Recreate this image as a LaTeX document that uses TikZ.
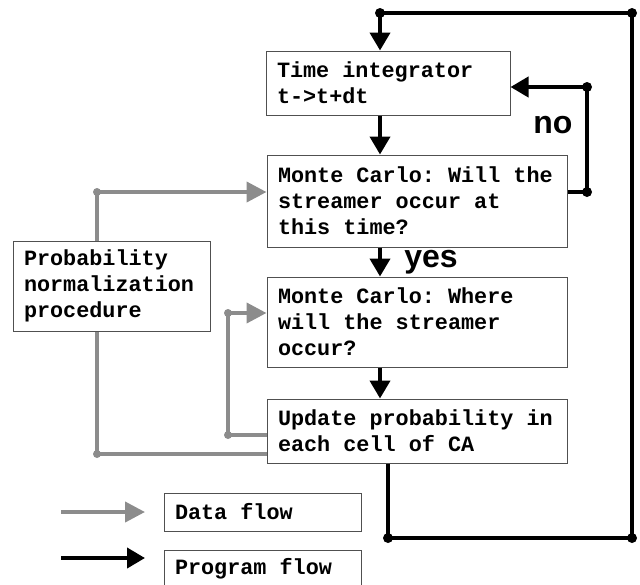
\documentclass[tikz,border=0pt]{standalone}
\usepackage{fontspec}
\setsansfont{Liberation Sans}
\setmonofont{Liberation Mono}
\usepackage{tikz}
\usetikzlibrary{arrows.meta,positioning}
\usepackage{xcolor}
\definecolor{datagray}{HTML}{8C8C8C}
\definecolor{frame}{HTML}{505050}
\tikzset{
  box/.style={draw=frame,line width=0.5pt,fill=white,align=flush left,inner xsep=5.5pt,
    inner ysep=2pt,font=\ttfamily\bfseries\fontsize{10.9}{13}\selectfont},
  prog/.style={-{Triangle[length=9pt,width=10pt]},draw=black,line width=2pt},
  data/.style={-{Triangle[length=10pt,width=10pt]},draw=datagray,line width=2pt},
  answer/.style={font=\sffamily\bfseries\fontsize{16}{16}\selectfont,inner sep=0pt}
}

\begin{document}
\begin{tikzpicture}[x=0.5pt,y=-0.5pt]
  \useasboundingbox (0,0) rectangle (640,584);
  % boxes
  \node[box,minimum width=122pt,minimum height=32pt,text width=111pt] (ti) at (388,83)
    {Time integrator\\t->t+dt};
  \node[box,minimum width=150pt,minimum height=46pt,text width=139pt] (mc1) at (417,201)
    {Monte Carlo: Will the\\streamer occur at\\this time?};
  \node[box,minimum width=150pt,minimum height=45pt,text width=139pt] (mc2) at (417,322)
    {Monte Carlo: Where\\will the streamer\\occur?};
  \node[box,minimum width=150pt,minimum height=32pt,text width=139pt] (up) at (417,431)
    {Update probability in\\each cell of CA};
  \node[box,minimum width=98.5pt,minimum height=45pt,text width=87.5pt] (pn) at (111.5,286)
    {Probability\\normalization\\procedure};
  \node[box,minimum width=98.5pt,minimum height=19pt,text width=87.5pt] (df) at (262.5,512)
    {Data flow};
  \node[box,minimum width=98.5pt,minimum height=19pt,text width=87.5pt,below=9pt of df] (pf)
    {Program flow};
  % program flow
  \coordinate (tl) at (380,13);
  \coordinate (tr) at (632,13);
  \coordinate (br) at (632,538);
  \coordinate (bl) at (388,538);
  \draw[prog] (up.south -| bl) -- (bl) -- (br) -- (tr) -- (tl) -- (ti.north -| tl);
  \draw[prog] (ti.south -| tl) -- (mc1.north -| tl);
  \draw[prog] (mc1.south -| tl) -- (mc2.north -| tl);
  \draw[prog] (mc2.south -| tl) -- (up.north -| tl);
  \coordinate (nb) at (587,192);
  \coordinate (nt) at (587,87);
  \draw[prog] (mc1.east |- nb) -- (nb) -- (nt) -- (ti.east |- nt);
  \foreach \c in {tl,tr,br,bl,nb,nt}
    \fill (\c) circle (2.5pt);
  \node[answer,anchor=base west] (yes) at (404,267) {yes};
  \node[answer,anchor=base west] (no) at (533,133) {no};
  % data flow
  \coordinate (ga) at (97,192);
  \coordinate (gb) at (97,454);
  \coordinate (gc) at (228,435);
  \coordinate (gd) at (228,313);
  \draw[data] (pn.north -| ga) -- (ga) -- (mc1.west |- ga);
  \draw[data,-] (up.west |- gb) -- (gb) -- (pn.south -| gb);
  \draw[data] (up.west |- gc) -- (gc) -- (gd) -- (mc2.west |- gd);
  \foreach \c in {ga,gb,gc,gd}
    \fill[datagray] (\c) circle (2pt);
  % legend
  \coordinate (la) at (61,512);
  \coordinate (lb) at (61,558);
  \draw[data] (la) -- (la -| 145,0);
  \draw[prog] (lb) -- (lb -| 145,0);
\end{tikzpicture}
\end{document}
